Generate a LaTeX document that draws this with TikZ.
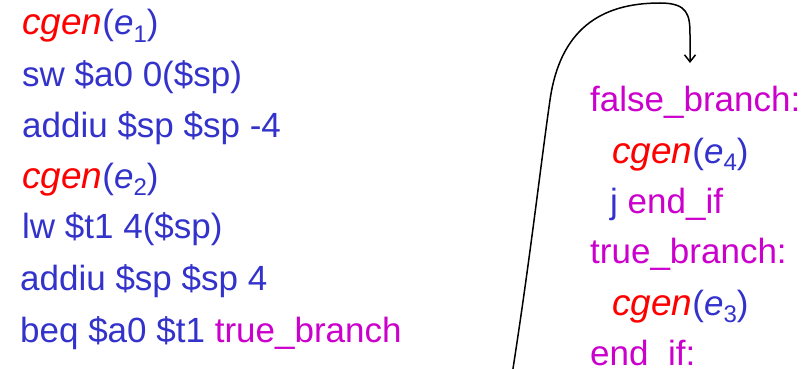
\documentclass[tikz,border=0pt]{standalone}
\usepackage{fontspec}
\setmainfont{Liberation Sans}
\usetikzlibrary{arrows.meta}
\definecolor{cgred}{RGB}{255,0,0}
\definecolor{asmblue}{RGB}{51,51,204}
\definecolor{lblmag}{RGB}{204,0,204}
\newcommand\cgcall[1]{\textcolor{cgred}{\fontsize{37}{40}\selectfont\itshape cgen}\textcolor{asmblue}{(\textit{e}\raisebox{-0.22em}{\fontsize{24}{24}\selectfont #1})}}
\newcommand\lbl[1]{\textcolor{lblmag}{#1}}
\begin{document}
\begin{tikzpicture}[x=1pt,y=-1pt,
  codeline/.style={anchor=base west,inner sep=0pt,text=asmblue,font=\fontsize{35}{40}\selectfont},
  flowarrow/.style={line width=1.5pt,-{Straight Barb[length=7pt,width=11pt]}}]
\clip (0,0) rectangle (812,369);
\fill[white] (0,0) rectangle (812,369);
% left column
\node[codeline] (l1) at (22,35) {\cgcall{1}};
\node[codeline] (l2) at (22,87) {sw \$a0 0(\$sp)};
\node[codeline] (l3) at (22,137) {addiu \$sp \$sp -4};
\node[codeline] (l4) at (22,188) {\cgcall{2}};
\node[codeline] (l5) at (22,238) {lw \$t1 4(\$sp)};
\node[codeline] (l6) at (20,290) {addiu \$sp \$sp 4};
\node[codeline] (l7) at (20,342) {beq \$a0 \$t1 \lbl{true\_branch}};
% right column
\node[codeline] (r1) at (590,112) {\lbl{false\_branch:}};
\node[codeline] (r2) at (612,163) {\cgcall{4}};
\node[codeline] (r3) at (610,213) {j \lbl{end\_if}};
\node[codeline] (r4) at (590,263) {\lbl{true\_branch:}};
\node[codeline] (r5) at (612,315) {\cgcall{3}};
\node[codeline] (r6) at (590,365) {\lbl{end\_if:}};
% arrow
\coordinate (src) at (512,375);
\coordinate (dst) at (690,63);
\draw[flowarrow] (src) .. controls (530,260) and (540,170) .. (550,100)
  .. controls (560,30) and (600,3) .. (660,3)
  .. controls (688,3) and (690,15) .. (690,35) -- (dst);
\end{tikzpicture}
\end{document}
